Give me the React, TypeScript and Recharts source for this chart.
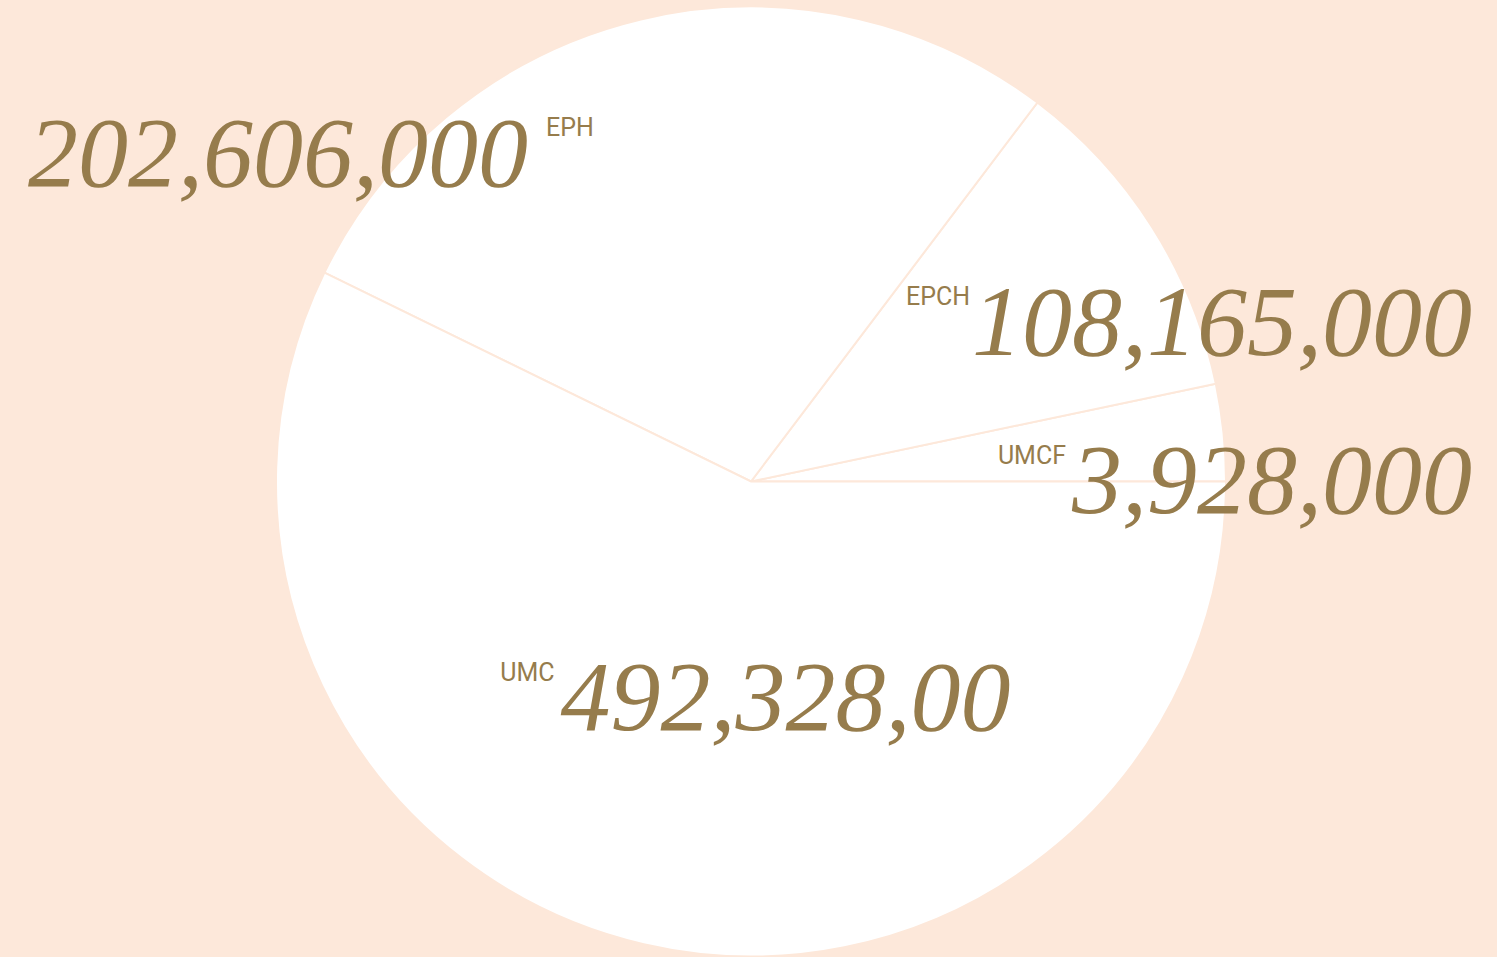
import { Pie, PieChart } from "recharts";

const sliceNames = ["UMCF", "EPCH", "EPH", "UMC"];
// slice shares (percent of the circle)
const sliceShares = [3.3, 11.4, 28.05, 57.25];
const sliceLabels = ["3,928,000", "108,165,000", "202,606,000", "492,328,00"];

const BG = "#fde8da";
const GOLD = "#967c4c";

type LabelLayout = {
  fx: number; // anchor x, in outer radius units from centre
  fy: number;
  anchor: "start" | "end";
  tagFirst: boolean;
  gap: number;
  rise: number;
};

const labelLayout: LabelLayout[] = [
  { fx: 1.518, fy: -0.036, anchor: "end", tagFirst: true, gap: 6, rise: 49 },
  { fx: 1.518, fy: -0.371, anchor: "end", tagFirst: true, gap: 2, rise: 50 },
  { fx: -1.522, fy: -0.622, anchor: "start", tagFirst: false, gap: 18, rise: 50 },
  { fx: -0.528, fy: 0.42, anchor: "start", tagFirst: true, gap: 6, rise: 49 },
];

const chartData = sliceNames.map((name, i) => ({
  name,
  value: sliceShares[i],
  label: sliceLabels[i],
}));

const numberStyle = {
  fontFamily: "'Liberation Serif', serif",
  fontStyle: "italic",
  fontSize: 100,
};

const tagStyle = {
  fontFamily: "Roboto, 'Liberation Sans', sans-serif",
  fontSize: 25,
};

const SliceLabel = (props: any) => {
  const { cx, cy, outerRadius, index } = props;
  const layout = labelLayout[index];
  const row = chartData[index];
  const x = cx + layout.fx * outerRadius;
  const y = cy + layout.fy * outerRadius;

  if (layout.tagFirst) {
    return (
      <text x={x} y={y} textAnchor={layout.anchor} fill={GOLD}>
        <tspan style={tagStyle}>{row.name}</tspan>
        <tspan dx={layout.gap} dy={layout.rise} style={numberStyle}>
          {row.label}
        </tspan>
      </text>
    );
  }

  return (
    <text x={x} y={y} textAnchor={layout.anchor} fill={GOLD}>
      <tspan style={numberStyle}>{row.label}</tspan>
      <tspan dx={layout.gap} dy={-layout.rise} style={tagStyle}>
        {row.name}
      </tspan>
    </text>
  );
};

export default function App() {
  return (
    <div
      style={{
        position: "absolute",
        top: 0,
        left: 0,
        width: 1497,
        height: 957,
        background: BG,
        overflow: "hidden",
      }}
    >
      <PieChart width={1497} height={957} margin={{ top: 0, right: 0, bottom: 0, left: 0 }}>
        <Pie
          data={chartData}
          dataKey="value"
          nameKey="name"
          cx={751}
          cy={481.5}
          outerRadius={475}
          startAngle={0}
          endAngle={360}
          fill="#ffffff"
          stroke={BG}
          strokeWidth={2}
          label={SliceLabel}
          labelLine={false}
          isAnimationActive={false}
        />
      </PieChart>
    </div>
  );
}
